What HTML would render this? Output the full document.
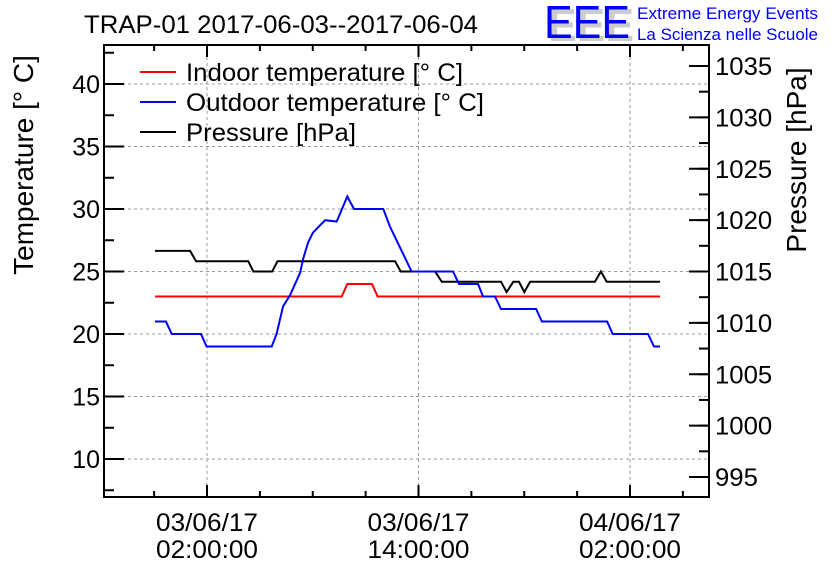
<!DOCTYPE html>
<html><head><meta charset="utf-8"><style>
html,body{margin:0;padding:0;background:#fff;}
svg{display:block;font-family:"Liberation Sans",sans-serif;}
</style></head><body>
<svg id="chart" width="836" height="572" viewBox="0 0 836 572">
<g id="grid"></g>
<g id="series"></g>
<g id="axes"></g>
<text x="84" y="33" font-size="25" textLength="394" lengthAdjust="spacingAndGlyphs">TRAP-01 2017-06-03--2017-06-04</text>
<g>
<text x="548" y="41" font-size="46" fill="#ccc" font-weight="bold" textLength="86" lengthAdjust="spacingAndGlyphs">EEE</text>
<text x="544" y="38" font-size="46" fill="#0000ff" textLength="86" lengthAdjust="spacingAndGlyphs">EEE</text>
<text x="637" y="19" font-size="17" fill="#0000ff" textLength="181" lengthAdjust="spacingAndGlyphs">Extreme Energy Events</text>
<text x="637" y="40" font-size="17" fill="#0000ff" textLength="181" lengthAdjust="spacingAndGlyphs">La Scienza nelle Scuole</text>
</g>
<g>
<line x1="140" y1="72" x2="176" y2="72" stroke="#f00" stroke-width="2"/>
<text x="186" y="81" font-size="25" textLength="277" lengthAdjust="spacingAndGlyphs">Indoor temperature [° C]</text>
<line x1="140" y1="102" x2="176" y2="102" stroke="#00f" stroke-width="2"/>
<text x="186" y="111" font-size="25" textLength="298" lengthAdjust="spacingAndGlyphs">Outdoor temperature [° C]</text>
<line x1="140" y1="132" x2="176" y2="132" stroke="#000" stroke-width="2"/>
<text x="186" y="141" font-size="25" textLength="170" lengthAdjust="spacingAndGlyphs">Pressure [hPa]</text>
</g>
<text transform="translate(33,165) rotate(-90)" text-anchor="middle" font-size="28">Temperature [° C]</text>
<text transform="translate(806,160) rotate(-90)" text-anchor="middle" font-size="28">Pressure [hPa]</text>
</svg>
<script>
// time in hours from 2017-06-03 00:00
const indoorT = [-0.95, 9.64, 9.96, 11.36, 11.68, 27.7];
const indoorV = [23, 23, 24, 24, 23, 23];
const outdoorT = [-0.95,-0.33,0,1.66,1.98,5.67,5.95,6.31,6.71,7.28,7.45,7.73,8.01,8.7,9.36,9.96,10.34,12.0,12.38,13.61,15.96,16.3,17.38,17.66,18.34,18.68,20.67,21.0,24.7,25.02,27.02,27.36,27.7];
const outdoorV = [21,21,20,20,19,19,20,22.2,23.1,24.9,26,27.3,28.1,29.1,29,31,30,30,28.6,25,25,24,24,23,23,22,22,21,21,20,20,19,19];
const pressT = [-0.95,1.04,1.38,4.34,4.63,5.7,6.0,12.67,12.99,14.94,15.32,18.68,19.0,19.38,19.7,20.0,20.33,24.01,24.35,24.68,27.7];
const pressV = [1017,1017,1016,1016,1015,1015,1016,1016,1015,1015,1014,1014,1013,1014,1014,1013,1014,1014,1015,1014,1014];
const tempTicks = [10,15,20,25,30,35,40];
const pressTicks = [995,1000,1005,1010,1015,1020,1025,1030,1035];
const xTickHours = [2,14,26];
const xTickLabels = [["03/06/17","02:00:00"],["03/06/17","14:00:00"],["04/06/17","02:00:00"]];

const L=104,R=709,T=45,B=497;
const xs=h=>207+(h-2)*17.625;
const yT=v=>459-(v-10)*12.5;
const yP=v=>271.5-(v-1015)*10.275;
const NS="http://www.w3.org/2000/svg";
function mk(tag,attrs,parent){const e=document.createElementNS(NS,tag);for(const k in attrs)e.setAttribute(k,attrs[k]);parent.appendChild(e);return e;}
const grid=document.getElementById('grid'),axes=document.getElementById('axes'),series=document.getElementById('series');

tempTicks.forEach(v=>{const y=yT(v);
 const g=mk('line',{x1:L,x2:R,y1:y,y2:y,stroke:'#999','stroke-dasharray':'3,3','stroke-width':1},grid);
 
 
 mk('line',{x1:L,x2:L+20,y1:y,y2:y,stroke:'#000','stroke-width':2},axes);
 const t=mk('text',{x:L-4,y:y+9,'text-anchor':'end','font-size':25},axes);t.textContent=v;
 
 
});
for(let v=7.5;v<=42.5;v+=2.5){const y=yT(v);if(y<T||y>B)continue;mk('line',{x1:L,x2:L+10,y1:y,y2:y,stroke:'#000','stroke-width':2},axes);}
pressTicks.forEach(v=>{const y=yP(v);
 mk('line',{x1:R-20,x2:R,y1:y,y2:y,stroke:'#000','stroke-width':2},axes);
 const t=mk('text',{x:R+6,y:y+9,'font-size':25,textLength:String(v).length*14.3,lengthAdjust:'spacingAndGlyphs'},axes);t.textContent=v;
 
 
});
for(let v=992.5;v<=1037.5;v+=2.5){const y=yP(v);if(y<T||y>B)continue;mk('line',{x1:R-10,x2:R,y1:y,y2:y,stroke:'#000','stroke-width':2},axes);}
xTickHours.forEach((h,i)=>{const x=xs(h);
 const g=mk('line',{x1:x,x2:x,y1:T,y2:B,stroke:'#999','stroke-dasharray':'3,3','stroke-width':1},grid);
 
 
 const t1=mk('text',{x:x,y:531,'text-anchor':'middle','font-size':25,textLength:102,lengthAdjust:'spacingAndGlyphs'},axes);t1.textContent=xTickLabels[i][0];
 
 
 const t2=mk('text',{x:x,y:558,'text-anchor':'middle','font-size':25,textLength:102,lengthAdjust:'spacingAndGlyphs'},axes);t2.textContent=xTickLabels[i][1];
 
 
});
for(let h=-1;h<=29;h+=3){const x=xs(h);if(x<L||x>R)continue;const major=((h-2)%12===0);const len=major?12:6;
 mk('line',{x1:x,x2:x,y1:B,y2:B-len,stroke:'#000','stroke-width':2},axes);
 mk('line',{x1:x,x2:x,y1:T,y2:T+len,stroke:'#000','stroke-width':2},axes);}
const fr=mk('rect',{x:L,y:T,width:R-L,height:B-T,fill:'none',stroke:'#000','stroke-width':2},axes);



function line(ts,vs,yf,color,name){
 const d=ts.map((t,i)=>(i?'L':'M')+xs(t).toFixed(1)+','+yf(vs[i]).toFixed(1)).join('');
 const p=mk('path',{d:d,fill:'none',stroke:color,'stroke-width':2},series);
 
 
}
line(pressT,pressV,yP,'#000','pressure-line');
line(indoorT,indoorV,yT,'#f00','indoor-temperature-line');
line(outdoorT,outdoorV,yT,'#00f','outdoor-temperature-line');
</script>
</body></html>
